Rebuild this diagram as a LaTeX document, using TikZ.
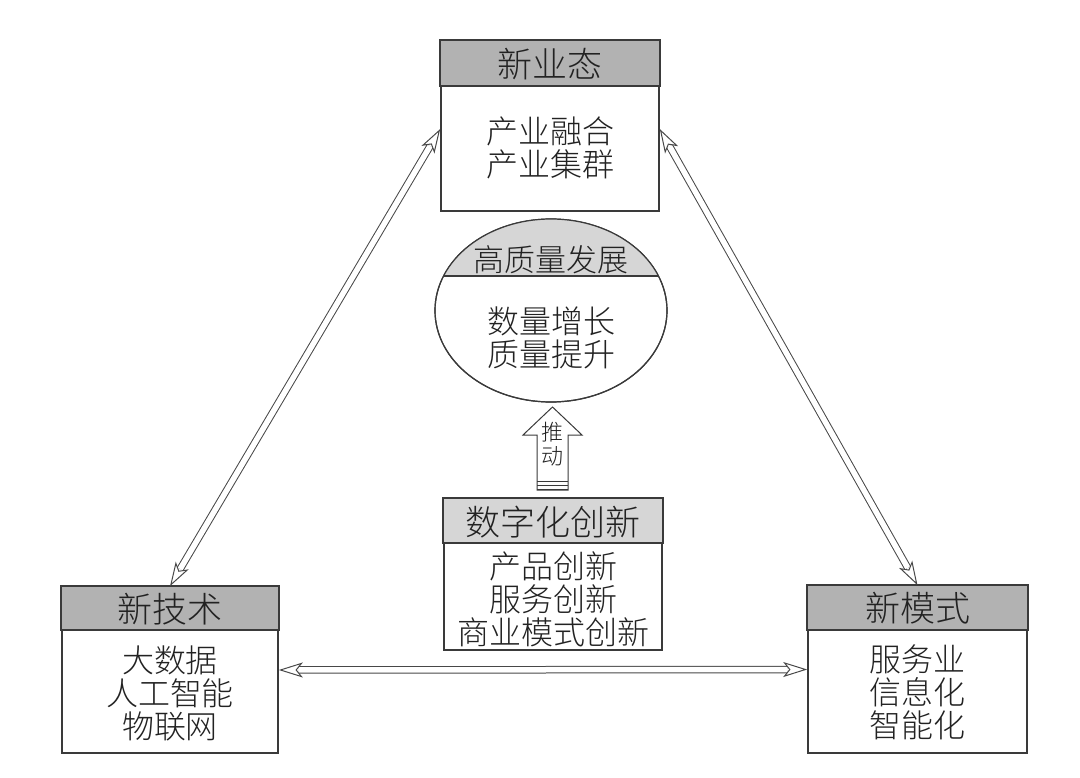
\documentclass[tikz,border=0pt]{standalone}
\usepackage{fontspec}
\setmainfont{Noto Sans CJK SC Light}
\usetikzlibrary{arrows.meta,shapes.geometric}
\definecolor{hdrdark}{HTML}{B2B2B2}
\definecolor{hdrlight}{HTML}{D6D6D6}
\definecolor{framec}{HTML}{3A3A3A}
\definecolor{arrowc}{HTML}{484848}
\definecolor{textc}{HTML}{222222}
\tikzset{
  boxframe/.style={draw=framec, line width=1.6pt, fill=white, inner sep=0pt},
  hdrtext/.style={font=\fontsize{35}{37}\selectfont, text=textc, inner sep=0pt},
  bodytext/.style={font=\fontsize{32}{33}\selectfont, text=textc, align=center, inner sep=0pt},
  shaft/.style={draw=arrowc, line width=1pt, double=white, double distance=5.5pt, shorten <=20pt, shorten >=20pt},
  tips/.style={draw=white, line width=1pt,
    {Stealth[open, color=arrowc, length=24pt, width=15pt, inset=6pt, line width=1pt]}-{Stealth[open, color=arrowc, length=24pt, width=15pt, inset=6pt, line width=1pt]}},
}
\begin{document}
\begin{tikzpicture}[x=1pt,y=-1pt]
\useasboundingbox (0,0) rectangle (1080,778);

% boxes
\node[boxframe, minimum width=218pt, minimum height=170pt] (ye) at (550,126) {};
\draw[boxframe, fill=hdrdark] (ye.north west) rectangle ([yshift=-46pt]ye.north east);

\node[boxframe, minimum width=216pt, minimum height=166pt] (js) at (170,670) {};
\draw[boxframe, fill=hdrdark] (js.north west) rectangle ([yshift=-44pt]js.north east);

\node[boxframe, minimum width=219pt, minimum height=167pt] (ms) at (917.5,669.5) {};
\draw[boxframe, fill=hdrdark] (ms.north west) rectangle ([yshift=-45pt]ms.north east);

\node[boxframe, minimum width=218pt, minimum height=151pt] (sz) at (553,574.5) {};
\draw[boxframe, fill=hdrlight] (sz.north west) rectangle ([yshift=-45pt]sz.north east);

% ellipse
\node[ellipse, draw=framec, line width=1.2pt, fill=white, minimum width=232pt, minimum height=183pt, inner sep=0pt] (gz) at (551,310.5) {};
\begin{scope}
  \clip (551,310.5) ellipse [x radius=116pt, y radius=91.5pt];
  \fill[hdrlight] (420,200) rectangle (690,276);
\end{scope}
\draw[framec, line width=1.8pt] (443.6,276) -- (658.4,276);
\draw[framec, line width=1.2pt] (551,310.5) ellipse [x radius=116pt, y radius=91.5pt];

% push arrow
\draw[framec, line width=1pt, fill=white] (552.5,407) -- (582,435) -- (568,435) -- (568,490) -- (537,490) -- (537,435) -- (523,435) -- cycle;
\draw[framec, line width=0.8pt] (537,481) -- (568,481);
\draw[framec, line width=1.6pt] (537,485.5) -- (568,485.5);
\draw[framec, line width=1.6pt] (537,489.5) -- (568,489.5);
\node[bodytext, font=\fontsize{22}{24}\selectfont] (td) at (552,444) {推\\动};

% texts
\node[hdrtext] (t1) at (550,64) {新业态};
\node[bodytext] (b1) at (550,148) {产业融合\\产业集群};
\node[hdrtext, font=\fontsize{31}{33}\selectfont] (t2) at (551,260) {高质量发展};
\node[bodytext] (b2) at (551,338) {数量增长\\质量提升};
\node[hdrtext] (t3) at (553,522) {数字化创新};
\node[bodytext] (b3) at (553,599) {产品创新\\服务创新\\商业模式创新};
\node[hdrtext] (t4) at (170,609) {新技术};
\node[bodytext] (b4) at (170,693.5) {大数据\\人工智能\\物联网};
\node[hdrtext] (t5) at (917.5,608) {新模式};
\node[bodytext] (b5) at (917.5,692.5) {服务业\\信息化\\智能化};

% connectors
\coordinate (yl) at ([yshift=-3pt]ye.west);
\coordinate (yr) at ([yshift=-3pt]ye.east);
\draw[shaft] (yl) -- (js.north);
\draw[tips] (yl) -- (js.north);
\draw[shaft] (yr) -- (ms.north);
\draw[tips] (yr) -- (ms.north);
\draw[shaft] (js.east) -- (ms.west);
\draw[tips] (js.east) -- (ms.west);
\end{tikzpicture}
\end{document}
